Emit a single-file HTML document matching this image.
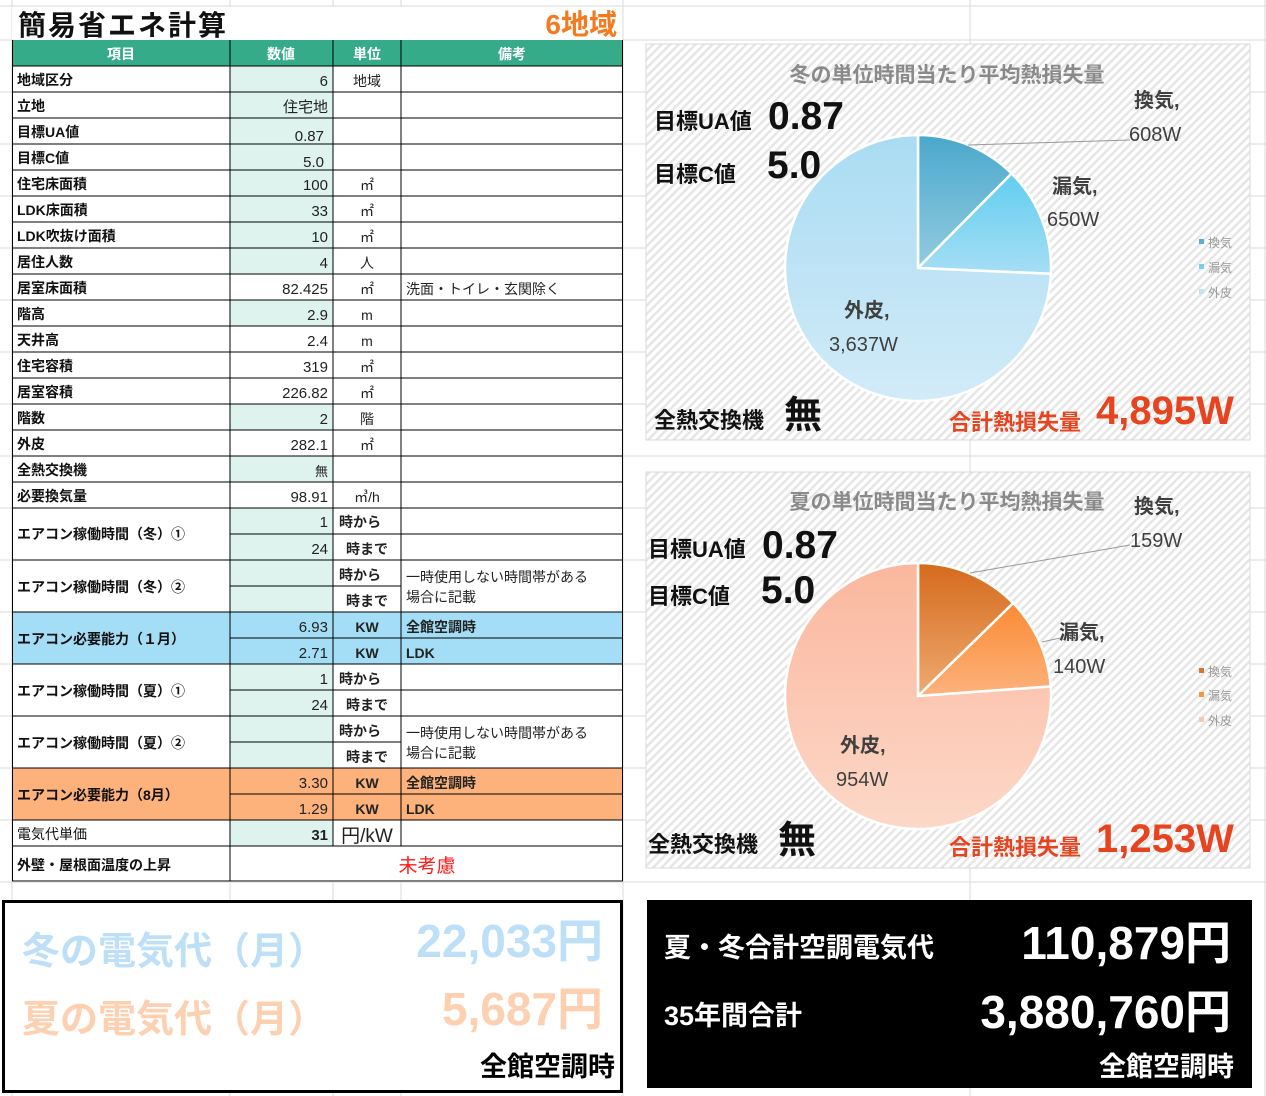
<!DOCTYPE html>
<html><head><meta charset="utf-8"><style>
html,body{margin:0;padding:0;background:#fff;}
svg{display:block;}
text{font-family:"Liberation Sans","Noto Sans CJK JP",sans-serif;}
.b{font-weight:bold;}
</style></head><body>
<svg width="1266" height="1096" viewBox="0 0 1266 1096" xmlns="http://www.w3.org/2000/svg">
<defs>
<pattern id="hatch" width="6" height="6" patternUnits="userSpaceOnUse" patternTransform="rotate(45)">
<rect width="6" height="6" fill="#ffffff"/><rect width="2.5" height="6" fill="#e6e6e6"/>
</pattern>
<linearGradient id="wb1" x1="0" y1="0" x2="0" y2="1"><stop offset="0" stop-color="#4aa8cc"/><stop offset="1" stop-color="#93cbe0"/></linearGradient>
<linearGradient id="wb2" x1="0" y1="0" x2="0" y2="1"><stop offset="0" stop-color="#62cdf0"/><stop offset="1" stop-color="#a6def4"/></linearGradient>
<linearGradient id="wb3" x1="0" y1="0" x2="0" y2="1"><stop offset="0" stop-color="#a9dcf2"/><stop offset="1" stop-color="#d2ebf8"/></linearGradient>
<linearGradient id="so1" x1="0" y1="0" x2="0" y2="1"><stop offset="0" stop-color="#d56a1c"/><stop offset="1" stop-color="#eeaa72"/></linearGradient>
<linearGradient id="so2" x1="0" y1="0" x2="0" y2="1"><stop offset="0" stop-color="#fb8b34"/><stop offset="1" stop-color="#fcb27d"/></linearGradient>
<linearGradient id="so3" x1="0" y1="0" x2="0" y2="1"><stop offset="0" stop-color="#fbb79e"/><stop offset="1" stop-color="#fcd8c8"/></linearGradient>
</defs>

<g stroke="#dadada" stroke-width="1">
<line x1="12" y1="0" x2="12" y2="1096"/><line x1="230" y1="0" x2="230" y2="1096"/><line x1="333" y1="0" x2="333" y2="1096"/><line x1="401" y1="0" x2="401" y2="1096"/><line x1="623" y1="0" x2="623" y2="1096"/><line x1="970" y1="0" x2="970" y2="1096"/><line x1="1265" y1="0" x2="1265" y2="1096"/>
<line x1="0" y1="6" x2="1266" y2="6"/><line x1="0" y1="40" x2="1266" y2="40"/>
<line x1="0" y1="92" x2="1266" y2="92"/><line x1="0" y1="144" x2="1266" y2="144"/><line x1="0" y1="196" x2="1266" y2="196"/><line x1="0" y1="248" x2="1266" y2="248"/><line x1="0" y1="300" x2="1266" y2="300"/><line x1="0" y1="352" x2="1266" y2="352"/><line x1="0" y1="404" x2="1266" y2="404"/><line x1="0" y1="456" x2="1266" y2="456"/><line x1="0" y1="508" x2="1266" y2="508"/><line x1="0" y1="560" x2="1266" y2="560"/><line x1="0" y1="612" x2="1266" y2="612"/><line x1="0" y1="664" x2="1266" y2="664"/><line x1="0" y1="716" x2="1266" y2="716"/><line x1="0" y1="768" x2="1266" y2="768"/><line x1="0" y1="820" x2="1266" y2="820"/><line x1="0" y1="882" x2="1266" y2="882"/>
</g>

<rect x="12" y="7" width="610" height="33" fill="#fff"/>
<text x="18" y="35" font-size="28" class="b" fill="#111" letter-spacing="2">簡易省エネ計算</text>
<text x="617" y="34" font-size="28" class="b" fill="#f47a20" text-anchor="end">6地域</text>

<rect x="12" y="40" width="611" height="842" fill="#fff"/>
<rect x="12" y="40" width="611" height="26" fill="#35ab89"/>
<g font-size="14" class="b" fill="#fff" text-anchor="middle">
<text x="121" y="59">項目</text><text x="281" y="59">数値</text><text x="367" y="59">単位</text><text x="512" y="59">備考</text>
</g>
<g fill="#def3ee">
<rect x="230" y="66" width="103" height="208"/>
<rect x="230" y="300" width="103" height="26"/>
<rect x="230" y="404" width="103" height="26"/>
<rect x="230" y="456" width="103" height="26"/>
<rect x="230" y="508" width="103" height="104"/>
<rect x="230" y="664" width="103" height="104"/>
<rect x="230" y="820" width="103" height="26"/>
</g>
<rect x="12" y="612" width="611" height="52" fill="#a3def6"/>
<rect x="12" y="768" width="611" height="52" fill="#fdb27c"/>
<g stroke="#000" stroke-width="1">
<line x1="12" y1="66" x2="623" y2="66"/>
<line x1="12" y1="92" x2="623" y2="92"/><line x1="12" y1="118" x2="623" y2="118"/><line x1="12" y1="144" x2="623" y2="144"/><line x1="12" y1="170" x2="623" y2="170"/><line x1="12" y1="196" x2="623" y2="196"/><line x1="12" y1="222" x2="623" y2="222"/><line x1="12" y1="248" x2="623" y2="248"/><line x1="12" y1="274" x2="623" y2="274"/><line x1="12" y1="300" x2="623" y2="300"/><line x1="12" y1="326" x2="623" y2="326"/><line x1="12" y1="352" x2="623" y2="352"/><line x1="12" y1="378" x2="623" y2="378"/><line x1="12" y1="404" x2="623" y2="404"/><line x1="12" y1="430" x2="623" y2="430"/><line x1="12" y1="456" x2="623" y2="456"/><line x1="12" y1="482" x2="623" y2="482"/><line x1="12" y1="508" x2="623" y2="508"/>
<line x1="230" y1="534" x2="623" y2="534"/><line x1="12" y1="560" x2="623" y2="560"/><line x1="230" y1="586" x2="401" y2="586"/><line x1="12" y1="612" x2="623" y2="612"/><line x1="230" y1="638" x2="623" y2="638"/><line x1="12" y1="664" x2="623" y2="664"/>
<line x1="230" y1="690" x2="623" y2="690"/><line x1="12" y1="716" x2="623" y2="716"/><line x1="230" y1="742" x2="401" y2="742"/><line x1="12" y1="768" x2="623" y2="768"/><line x1="230" y1="794" x2="623" y2="794"/><line x1="12" y1="820" x2="623" y2="820"/><line x1="12" y1="846" x2="623" y2="846"/><line x1="12" y1="881" x2="623" y2="881"/>
<line x1="12.5" y1="40" x2="12.5" y2="881"/><line x1="230" y1="40" x2="230" y2="881"/><line x1="333" y1="40" x2="333" y2="846"/><line x1="401" y1="40" x2="401" y2="846"/><line x1="622.5" y1="40" x2="622.5" y2="881"/>
</g>
<g font-size="14" class="b" fill="#111">
<text x="17" y="85">地域区分</text><text x="17" y="111">立地</text><text x="17" y="137">目標UA値</text><text x="17" y="163">目標C値</text><text x="17" y="189">住宅床面積</text><text x="17" y="215">LDK床面積</text><text x="17" y="241">LDK吹抜け面積</text><text x="17" y="267">居住人数</text><text x="17" y="293">居室床面積</text><text x="17" y="319">階高</text><text x="17" y="345">天井高</text><text x="17" y="371">住宅容積</text><text x="17" y="397">居室容積</text><text x="17" y="423">階数</text><text x="17" y="449">外皮</text><text x="17" y="475">全熱交換機</text><text x="17" y="501">必要換気量</text>
<text x="17" y="539">エアコン稼働時間（冬）①</text><text x="17" y="592">エアコン稼働時間（冬）②</text><text x="17" y="644">エアコン必要能力（１月）</text><text x="17" y="696">エアコン稼働時間（夏）①</text><text x="17" y="748">エアコン稼働時間（夏）②</text><text x="17" y="800">エアコン必要能力（8月）</text><text x="17" y="839" font-weight="normal">電気代単価</text><text x="17" y="870">外壁・屋根面温度の上昇</text>
</g>
<g font-size="15" fill="#222" text-anchor="end">
<text x="328" y="86">6</text><text x="328" y="112">住宅地</text><text x="324" y="141">0.87</text><text x="324" y="167">5.0</text><text x="328" y="190">100</text><text x="328" y="216">33</text><text x="328" y="242">10</text><text x="328" y="268">4</text><text x="328" y="294">82.425</text><text x="328" y="320">2.9</text><text x="328" y="346">2.4</text><text x="328" y="372">319</text><text x="328" y="398">226.82</text><text x="328" y="424">2</text><text x="328" y="450">282.1</text><text x="328" y="476" font-size="13">無</text><text x="328" y="502">98.91</text>
<text x="328" y="527">1</text><text x="328" y="554">24</text><text x="328" y="632">6.93</text><text x="328" y="658">2.71</text><text x="328" y="684">1</text><text x="328" y="710">24</text><text x="328" y="788">3.30</text><text x="328" y="814">1.29</text><text x="328" y="840" class="b">31</text>
</g>
<g font-size="14" fill="#222" text-anchor="middle">
<text x="367" y="86">地域</text><text x="367" y="190">㎡</text><text x="367" y="216">㎡</text><text x="367" y="242">㎡</text><text x="367" y="268">人</text><text x="367" y="294">㎡</text><text x="367" y="320">m</text><text x="367" y="346">m</text><text x="367" y="372">㎡</text><text x="367" y="398">㎡</text><text x="367" y="424">階</text><text x="367" y="450">㎡</text><text x="367" y="502">㎥/h</text>
<text x="360" y="527" class="b">時から</text><text x="367" y="554" class="b">時まで</text><text x="360" y="580" class="b">時から</text><text x="367" y="606" class="b">時まで</text>
<text x="367" y="632" class="b">KW</text><text x="367" y="658" class="b">KW</text>
<text x="360" y="684" class="b">時から</text><text x="367" y="710" class="b">時まで</text><text x="360" y="736" class="b">時から</text><text x="367" y="762" class="b">時まで</text>
<text x="367" y="788" class="b">KW</text><text x="367" y="814" class="b">KW</text>
<text x="367" y="842" font-size="19">円/kW</text>
</g>
<g font-size="14" fill="#222">
<text x="406" y="294">洗面・トイレ・玄関除く</text>
<text x="406" y="582">一時使用しない時間帯がある</text><text x="406" y="602">場合に記載</text>
<text x="406" y="632" class="b">全館空調時</text><text x="406" y="658" class="b">LDK</text>
<text x="406" y="738">一時使用しない時間帯がある</text><text x="406" y="758">場合に記載</text>
<text x="406" y="788" class="b">全館空調時</text><text x="406" y="814" class="b">LDK</text>
</g>
<text x="427" y="872" font-size="19" fill="#ff1a1a" text-anchor="middle">未考慮</text>

<rect x="646" y="44" width="604" height="396" fill="url(#hatch)" stroke="#d9d9d9"/>
<path d="M918,268 L918,135 A133,133 0 0 1 1011.6,173.5 Z" fill="url(#wb1)" stroke="#fff" stroke-width="2.5"/>
<path d="M918,268 L1011.6,173.5 A133,133 0 0 1 1050.9,273.8 Z" fill="url(#wb2)" stroke="#fff" stroke-width="2.5"/>
<path d="M918,268 L1050.9,273.8 A133,133 0 1 1 918,135 Z" fill="url(#wb3)" stroke="#fff" stroke-width="2.5"/>
<line x1="968" y1="145" x2="1130" y2="140" stroke="#999" stroke-width="1"/>
<text x="947" y="82" font-size="21" class="b" fill="#8a8a8a" text-anchor="middle">冬の単位時間当たり平均熱損失量</text>
<text x="654" y="129" font-size="22" class="b" fill="#111">目標UA値</text>
<text x="768" y="129" font-size="39" class="b" fill="#111">0.87</text>
<text x="654" y="182" font-size="22" class="b" fill="#111">目標C値</text>
<text x="767" y="178" font-size="39" class="b" fill="#111">5.0</text>
<g font-size="20" fill="#404040">
<text x="1134" y="107" class="b">換気,</text><text x="1129" y="141">608W</text>
<text x="1052" y="193" class="b">漏気,</text><text x="1047" y="226">650W</text>
<text x="844" y="317" class="b">外皮,</text><text x="829" y="351">3,637W</text>
</g>
<g font-size="12" fill="#999">
<rect x="1199" y="239" width="5" height="5" fill="#5aaecf"/><text x="1208" y="247">換気</text>
<rect x="1199" y="264" width="5" height="5" fill="#72d0f0"/><text x="1208" y="272">漏気</text>
<rect x="1199" y="289" width="5" height="5" fill="#c2e5f5"/><text x="1208" y="297">外皮</text>
</g>
<text x="654" y="428" font-size="22" class="b" fill="#111">全熱交換機</text>
<text x="784" y="428" font-size="38" class="b" fill="#111">無</text>
<text x="949" y="430" font-size="22" class="b" fill="#e8431f">合計熱損失量</text>
<text x="1096" y="424" font-size="40" class="b" fill="#e8431f">4,895W</text>

<rect x="646" y="472" width="604" height="396" fill="url(#hatch)" stroke="#d9d9d9"/>
<path d="M918,696 L918,563 A133,133 0 0 1 1013.2,603.1 Z" fill="url(#so1)" stroke="#fff" stroke-width="2.5"/>
<path d="M918,696 L1013.2,603.1 A133,133 0 0 1 1050.7,686.5 Z" fill="url(#so2)" stroke="#fff" stroke-width="2.5"/>
<path d="M918,696 L1050.7,686.5 A133,133 0 1 1 918,563 Z" fill="url(#so3)" stroke="#fff" stroke-width="2.5"/>
<line x1="970" y1="573" x2="1130" y2="545" stroke="#999" stroke-width="1"/>
<line x1="1042" y1="642" x2="1060" y2="638" stroke="#999" stroke-width="1"/>
<text x="947" y="509" font-size="21" class="b" fill="#8a8a8a" text-anchor="middle">夏の単位時間当たり平均熱損失量</text>
<text x="648" y="557" font-size="22" class="b" fill="#111">目標UA値</text>
<text x="762" y="558" font-size="39" class="b" fill="#111">0.87</text>
<text x="648" y="604" font-size="22" class="b" fill="#111">目標C値</text>
<text x="761" y="603" font-size="39" class="b" fill="#111">5.0</text>
<g font-size="20" fill="#404040">
<text x="1134" y="513" class="b">換気,</text><text x="1130" y="547">159W</text>
<text x="1059" y="639" class="b">漏気,</text><text x="1053" y="673">140W</text>
<text x="840" y="752" class="b">外皮,</text><text x="836" y="786">954W</text>
</g>
<g font-size="12" fill="#999">
<rect x="1199" y="668" width="5" height="5" fill="#d8762e"/><text x="1208" y="676">換気</text>
<rect x="1199" y="692" width="5" height="5" fill="#fb9440"/><text x="1208" y="700">漏気</text>
<rect x="1199" y="717" width="5" height="5" fill="#fcc6b0"/><text x="1208" y="725">外皮</text>
</g>
<text x="648" y="852" font-size="22" class="b" fill="#111">全熱交換機</text>
<text x="778" y="853" font-size="38" class="b" fill="#111">無</text>
<text x="949" y="855" font-size="22" class="b" fill="#e8431f">合計熱損失量</text>
<text x="1096" y="852" font-size="40" class="b" fill="#e8431f">1,253W</text>

<rect x="3.5" y="901.5" width="618" height="190" fill="#fff" stroke="#000" stroke-width="3"/>
<text x="22" y="964" font-size="38" class="b" fill="#bde0f8">冬の電気代（月）</text>
<text x="603" y="957" font-size="46" class="b" fill="#bde0f8" text-anchor="end">22,033円</text>
<text x="22" y="1032" font-size="38" class="b" fill="#fdd0b2">夏の電気代（月）</text>
<text x="603" y="1025" font-size="46" class="b" fill="#fdd0b2" text-anchor="end">5,687円</text>
<text x="615" y="1076" font-size="27" class="b" fill="#000" text-anchor="end">全館空調時</text>

<rect x="647" y="900" width="605" height="188" fill="#000"/>
<text x="664" y="957" font-size="27" class="b" fill="#fff">夏・冬合計空調電気代</text>
<text x="1231" y="959" font-size="46" class="b" fill="#fff" text-anchor="end">110,879円</text>
<text x="664" y="1025" font-size="27" class="b" fill="#fff">35年間合計</text>
<text x="1231" y="1028" font-size="46" class="b" fill="#fff" text-anchor="end">3,880,760円</text>
<text x="1234" y="1076" font-size="27" class="b" fill="#fff" text-anchor="end">全館空調時</text>
</svg>
</body></html>
